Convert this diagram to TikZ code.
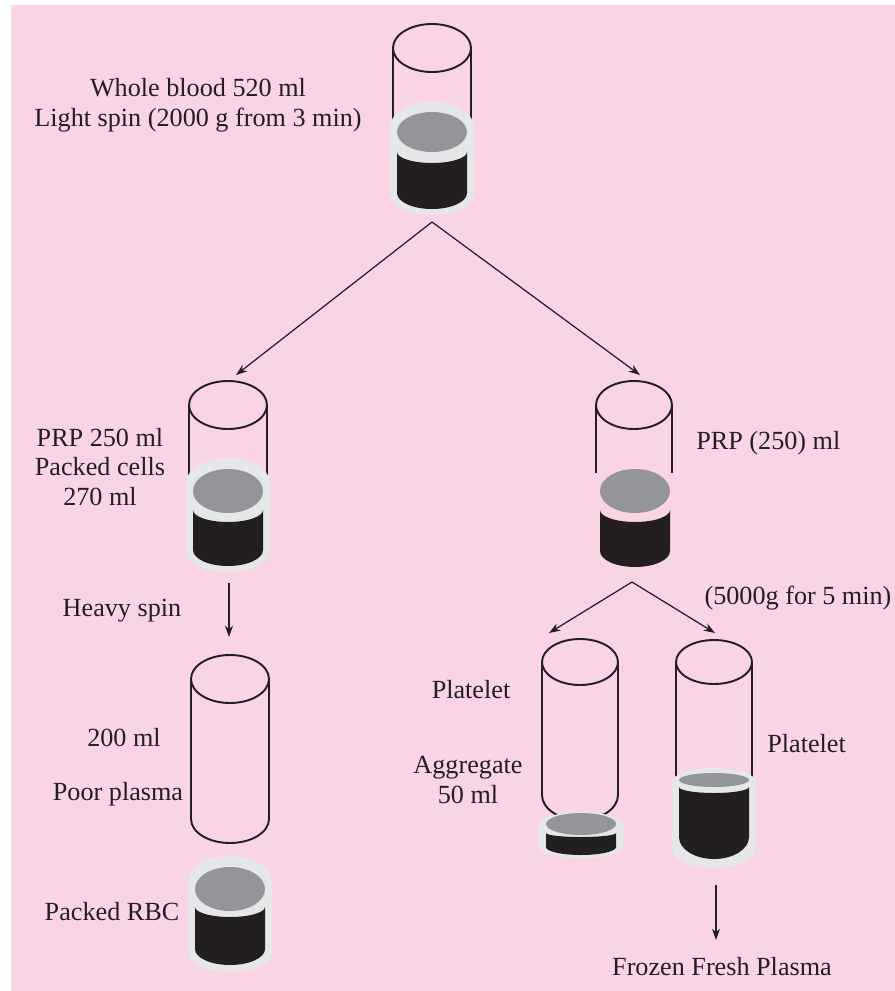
\documentclass[tikz,border=0pt]{standalone}
\usepackage{fontspec}
\setmainfont{Liberation Serif}
\usepackage{tikz}
\usetikzlibrary{arrows.meta, positioning}
\definecolor{bg_pink}{RGB}{249,212,229}
\definecolor{ink}{RGB}{35,31,32}
\definecolor{sleeve_grey}{RGB}{230,231,232}
\definecolor{plasma_grey}{RGB}{147,149,152}
\tikzset{
  glass_line/.style={draw=ink, line width=1.1pt},
  sleeve_fill/.style={fill=sleeve_grey},
  plasma_fill/.style={fill=plasma_grey},
  packed_fill/.style={fill=ink},
  arrow/.style={-{Stealth[length=6.5pt, width=4.6pt]}, draw=ink, line width=0.7pt},
  label_text/.style={text=ink, font=\fontsize{14.9}{17}\selectfont, align=center, inner sep=0pt},
}
% open glass: centre x, top centre y, x radius, y radius, wall end y
\newcommand{\glasstop}[5]{%
  \draw[glass_line] (#1,#2) ellipse [x radius=#3, y radius=#4];
  \draw[glass_line] (#1-#3,#2) -- (#1-#3,#5) (#1+#3,#2) -- (#1+#3,#5);
}
% grey sleeve: centre x, top y, bottom y, half width, top radius, bottom radius
\newcommand{\sleeveshape}[6]{%
  \fill[sleeve_fill] (#1-#4,#2-#5) arc[start angle=180, end angle=0, x radius=#4, y radius=#5]
    -- (#1+#4,#3+#6) arc[start angle=0, end angle=-180, x radius=#4, y radius=#6] -- cycle;
}
% packed cells: centre x, side top y, top dip, bottom y, bottom radius, half width
\newcommand{\cellshape}[6]{%
  \fill[packed_fill] (#1-#6,#2) -- (#1-#6,#4+#5) arc[start angle=180, end angle=360, x radius=#6, y radius=#5]
    -- (#1+#6,#2) arc[start angle=0, end angle=-180, x radius=#6, y radius=#3] -- cycle;
}
\begin{document}
\begin{tikzpicture}[x=0.02cm, y=0.02cm]
  \useasboundingbox (0,0) rectangle (895,-991);
  \fill[white] (0,0) rectangle (895,-991);
  \fill[bg_pink] (11,-5) rectangle (895,-991);

  % Whole blood
  \glasstop{432}{-48}{39}{24}{-120}
  \sleeveshape{432}{-102}{-215}{42}{25}{20}
  \cellshape{432}{-152}{11}{-209}{16}{35}
  \fill[plasma_fill] (432,-132) ellipse [x radius=35, y radius=20];
  \node[label_text, anchor=north] (whole_label) at (198,-78) {Whole blood 520 ml\\Light spin (2000 g from 3 min)};

  % After light spin
  \glasstop{228}{-405}{39}{24}{-478}
  \sleeveshape{228}{-458}{-572}{42}{25}{20}
  \cellshape{228}{-510}{12}{-566}{16}{35}
  \fill[plasma_fill] (228,-491) ellipse [x radius=35, y radius=22];
  \node[label_text] (prp_cells_label) at (100,-467) {PRP 250 ml\\Packed cells\\270 ml};

  \glasstop{634}{-405}{38}{24}{-473}
  \cellshape{635}{-510}{12}{-567}{16}{35}
  \fill[plasma_fill] (635,-491) ellipse [x radius=35, y radius=22];
  \node[label_text, anchor=west] (prp_label) at (696,-443) {PRP (250) ml};

  % Heavy spin
  \glasstop{230}{-679}{39}{24}{-819}
  \draw[glass_line] (230-39,-819) arc[start angle=180, end angle=360, x radius=39, y radius=24];
  \node[label_text] (heavy_label) at (122,-611) {Heavy spin};
  \node[label_text] (volume_label) at (124,-738) {200 ml};
  \node[label_text] (poor_label) at (118,-794) {Poor plasma};

  \sleeveshape{230}{-856}{-972}{42}{25}{20}
  \cellshape{230}{-907}{10}{-965}{16}{35}
  \fill[plasma_fill] (230,-889) ellipse [x radius=35, y radius=22];
  \node[label_text] (rbc_label) at (112,-912) {Packed RBC};

  % Second spin
  \node[label_text] (fast_label) at (798,-598) {(5000g for 5 min)};

  \glasstop{580}{-662}{38}{23}{-795}
  \draw[glass_line] (580-38,-795) arc[start angle=180, end angle=360, x radius=38, y radius=25];
  \sleeveshape{581}{-812}{-858}{43}{14}{12}
  \cellshape{581}{-833}{4}{-855}{8}{35}
  \fill[plasma_fill] (581,-824) ellipse [x radius=35, y radius=11];
  \node[label_text] (platelet_left) at (471,-690) {Platelet};
  \node[label_text, anchor=base] (aggregate_label) at (468,-803) {Aggregate\\50 ml};

  \glasstop{714}{-662}{38}{22}{-785}
  \sleeveshape{714}{-768}{-868}{42}{14}{20}
  \cellshape{714}{-787}{6}{-859}{22}{35}
  \fill[plasma_fill] (714,-780) ellipse [x radius=35, y radius=7];
  \node[label_text, anchor=base west] (platelet_right) at (767,-752) {Platelet};
  \node[label_text, anchor=base] (ffp_label) at (722,-975) {Frozen Fresh Plasma};

  % Arrows
  \coordinate (split_top) at (432,-222);
  \coordinate (left_in) at (236,-375);
  \coordinate (right_in) at (640,-375);
  \coordinate (heavy_from) at (229,-583);
  \coordinate (heavy_to) at (229,-637);
  \coordinate (split_low) at (632,-582);
  \coordinate (agg_in) at (549,-633);
  \coordinate (plt_in) at (715,-633);
  \coordinate (ffp_from) at (716,-885);
  \coordinate (ffp_to) at (716,-940);
  \draw[arrow] (split_top) -- (left_in);
  \draw[arrow] (split_top) -- (right_in);
  \draw[arrow] (heavy_from) -- (heavy_to);
  \draw[arrow] (split_low) -- (agg_in);
  \draw[arrow] (split_low) -- (plt_in);
  \draw[arrow] (ffp_from) -- (ffp_to);
\end{tikzpicture}
\end{document}
